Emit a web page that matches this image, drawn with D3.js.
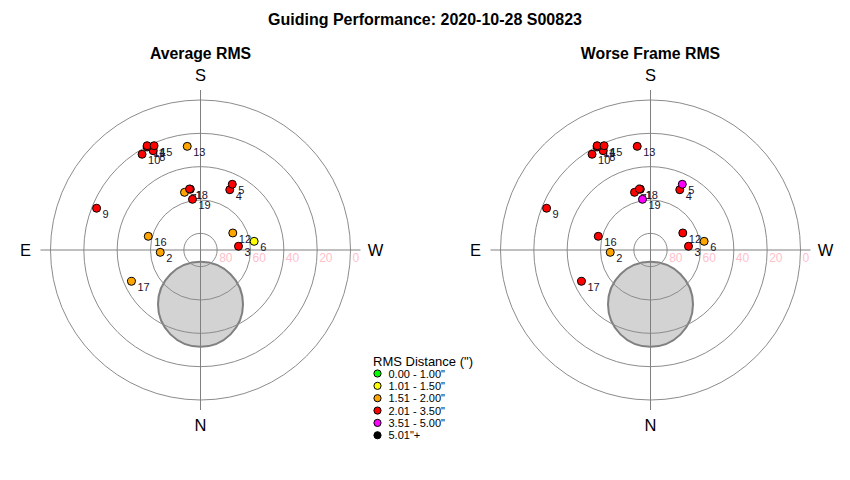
<!DOCTYPE html>
<html>
<head>
<meta charset="utf-8">
<script src="https://cdn.jsdelivr.net/npm/d3@7"></script>
<style>
  body { margin: 0; background: #fff; }
  svg { font-family: "Liberation Sans", Arial, sans-serif; }
</style>
</head>
<body>
<div id="chart"></div>
<script>
// frame data (azimuth / altitude in degrees)
var frameIds = [1, 2, 3, 4, 5, 6, 7, 8, 9, 10, 11, 12, 13, 14, 15, 16, 17, 18, 19];
var azimuth = [170.5, 86.7, 264.4, 205.9, 205.8, 260.8, 164.5, 154.5, 111.9, 148.6,
               152.6, 242.2, 172.7, 152.9, 156.0, 104.7, 65.6, 169.8, 171.0];
var altitude = [53.0, 65.8, 67.1, 49.8, 46.2, 57.4, 54.1, 24.0, 22.8, 22.7,
                20.4, 68.1, 27.3, 19.7, 21.5, 57.6, 44.5, 52.8, 59.2];
// RMS values (arcsec), estimated from the colour bins
var avgRms = [2.3, 1.8, 2.2, 2.4, 2.6, 1.3, 1.9, 2.5, 2.7, 2.4,
              2.3, 1.9, 1.8, 2.5, 2.6, 1.7, 1.9, 2.2, 2.1];
var worstRms = [3.0, 1.9, 2.8, 3.1, 3.8, 1.9, 2.9, 3.2, 3.3, 3.0,
                2.9, 2.6, 2.7, 3.2, 3.3, 2.4, 2.6, 3.1, 3.9];

var ringAlts = [80, 60, 40, 20, 0];
var cardinals = [{ t: "S", az: 180 }, { t: "N", az: 0 }, { t: "E", az: 90 }, { t: "W", az: 270 }];

// shaded exclusion zone
var zoneAz = 0;
var zoneAlt = 57.4;
var zoneRadiusDeg = 25.5;

var rmsBreaks = [1.005, 1.505, 2.005, 3.505, 5.005];
var rmsColors = ["#00ff00", "#ffff00", "#ffa500", "#ff0000", "#ff00ff", "#000000"];
var legendLabels = ["0.00 - 1.00\"", "1.01 - 1.50\"", "1.51 - 2.00\"",
                    "2.01 - 3.50\"", "3.51 - 5.00\"", "5.01\"+"];

var width = 850;
var height = 480;
var outerR = 150;
var cy = 250;

var svg = d3
  .select("#chart")
  .append("svg")
  .attr("width", width)
  .attr("height", height);

var rScale = d3.scaleLinear().domain([90, 0]).range([0, outerR]);
var colorScale = d3.scaleThreshold().domain(rmsBreaks).range(rmsColors);

function polarX(az, alt) {
  return -rScale(alt) * Math.sin(az * Math.PI / 180);
}
function polarY(az, alt) {
  return rScale(alt) * Math.cos(az * Math.PI / 180);
}

// main title
svg
  .append("text")
  .attr("x", 425)
  .attr("y", 25)
  .attr("text-anchor", "middle")
  .attr("font-size", 16)
  .attr("font-weight", "bold")
  .text("Guiding Performance: 2020-10-28 S00823");

function drawPolar(cx, title, rms) {
  var g = svg.append("g").attr("transform", "translate(" + cx + "," + cy + ")");

  g.append("text")
    .attr("y", -191)
    .attr("text-anchor", "middle")
    .attr("font-size", 15.8)
    .attr("font-weight", "bold")
    .text(title);

  // grey zone first, grid goes over it
  g.append("circle")
    .attr("cx", polarX(zoneAz, zoneAlt))
    .attr("cy", polarY(zoneAz, zoneAlt))
    .attr("r", rScale(90 - zoneRadiusDeg))
    .attr("fill", "#d3d3d3")
    .attr("stroke", "#808080")
    .attr("stroke-width", 2);

  g.selectAll(".ring")
    .data(ringAlts)
    .enter()
    .append("circle")
    .attr("class", "ring")
    .attr("r", function(d) { return rScale(d); })
    .attr("fill", "none")
    .attr("stroke", "#8c8c8c")
    .attr("stroke-width", 1);

  g.append("line")
    .attr("x1", -160).attr("x2", 160)
    .attr("y1", 0).attr("y2", 0)
    .attr("stroke", "#808080");
  g.append("line")
    .attr("x1", 0).attr("x2", 0)
    .attr("y1", -160).attr("y2", 160)
    .attr("stroke", "#808080");

  g.selectAll(".ringLabel")
    .data(ringAlts)
    .enter()
    .append("text")
    .attr("class", "ringLabel")
    .attr("x", function(d) { return rScale(d) + 2; })
    .attr("y", 12)
    .attr("font-size", 12)
    .attr("fill", "#ffc0cb")
    .text(function(d) { return d; });

  g.selectAll(".cardinal")
    .data(cardinals)
    .enter()
    .append("text")
    .attr("class", "cardinal")
    .attr("x", function(d) { return -175 * Math.sin(d.az * Math.PI / 180); })
    .attr("y", function(d) { return 175 * Math.cos(d.az * Math.PI / 180); })
    .attr("text-anchor", "middle")
    .attr("dominant-baseline", "central")
    .attr("font-size", 16.5)
    .text(function(d) { return d.t; });

  // labels under the points
  g.selectAll(".frameLabel")
    .data(frameIds)
    .enter()
    .append("text")
    .attr("class", "frameLabel")
    .attr("x", function(d, i) { return polarX(azimuth[i], altitude[i]) + 6; })
    .attr("y", function(d, i) { return polarY(azimuth[i], altitude[i]) + 10; })
    .attr("font-size", 11)
    .attr("fill", "#1a1030")
    .text(function(d) { return d; });

  g.selectAll(".frame")
    .data(frameIds)
    .enter()
    .append("circle")
    .attr("class", "frame")
    .attr("cx", function(d, i) { return polarX(azimuth[i], altitude[i]); })
    .attr("cy", function(d, i) { return polarY(azimuth[i], altitude[i]); })
    .attr("r", 4)
    .attr("fill", function(d, i) { return colorScale(rms[i]); })
    .attr("stroke", "#000")
    .attr("stroke-width", 1);
}

drawPolar(200.5, "Average RMS", avgRms);
drawPolar(650.5, "Worse Frame RMS", worstRms);

// legend
var legend = svg.append("g").attr("transform", "translate(373,366)");
legend
  .append("text")
  .attr("font-size", 13)
  .text("RMS Distance (\")");

var rows = legend
  .selectAll(".legendRow")
  .data(legendLabels)
  .enter()
  .append("g")
  .attr("class", "legendRow")
  .attr("transform", function(d, i) { return "translate(0," + (7.5 + i * 12.35) + ")"; });

rows
  .append("circle")
  .attr("cx", 4.5)
  .attr("r", 3.6)
  .attr("fill", function(d, i) { return rmsColors[i]; })
  .attr("stroke", "#000")
  .attr("stroke-width", 1);

rows
  .append("text")
  .attr("x", 15.5)
  .attr("y", 4)
  .attr("font-size", 11)
  .text(function(d) { return d; });
</script>
</body>
</html>
